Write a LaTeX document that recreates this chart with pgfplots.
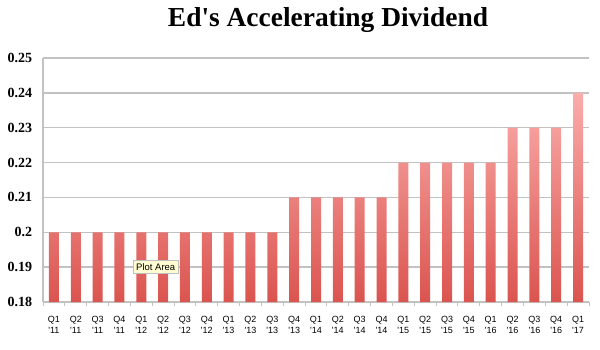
\documentclass[border=0pt]{standalone}
\usepackage{fontspec}
\setmainfont{Liberation Serif}
\setsansfont{Liberation Sans}
\usepackage{pgfplots}
\pgfplotsset{compat=1.18}
\definecolor{gridgray}{HTML}{C2C2C2}
\definecolor{bartop}{HTML}{FAADAB}
\definecolor{barbot}{HTML}{DB544F}
\begin{document}
\begin{tikzpicture}[x=1pt,y=1pt]
\path[use as bounding box] (0,0) rectangle (600,349);
\node[font=\bfseries] at (328,329) {\resizebox{320pt}{!}{Ed\textquotesingle s Accelerating Dividend}};
\begin{axis}[
  at={(43pt,47pt)}, anchor=south west,
  scale only axis, width=546pt, height=244pt,
  xmin=-0.5, xmax=24.5, ymin=0.18, ymax=0.25,
  ytick={0.18,0.19,...,0.25},
  yticklabels={0.18,0.19,0.2,0.21,0.22,0.23,0.24,0.25},
  ymajorgrids, grid style={gridgray, line width=1.5pt},
  axis x line*=bottom, axis y line*=left,
  axis line style={gridgray, line width=1.5pt},
  y axis line style={-}, x axis line style={-},
  major y tick style={draw=none},
  xtick={0,...,24}, major x tick style={draw=none},
  minor xtick={-0.5,0.5,...,24.5},
  minor x tick style={gridgray, line width=1pt},
  minor tick length=4pt, tick align=outside,
  xticklabels={{Q1\\\textquotesingle 11},{Q2\\\textquotesingle 11},{Q3\\\textquotesingle 11},{Q4\\\textquotesingle 11},
    {Q1\\\textquotesingle 12},{Q2\\\textquotesingle 12},{Q3\\\textquotesingle 12},{Q4\\\textquotesingle 12},
    {Q1\\\textquotesingle 13},{Q2\\\textquotesingle 13},{Q3\\\textquotesingle 13},{Q4\\\textquotesingle 13},
    {Q1\\\textquotesingle 14},{Q2\\\textquotesingle 14},{Q3\\\textquotesingle 14},{Q4\\\textquotesingle 14},
    {Q1\\\textquotesingle 15},{Q2\\\textquotesingle 15},{Q3\\\textquotesingle 15},{Q4\\\textquotesingle 15},
    {Q1\\\textquotesingle 16},{Q2\\\textquotesingle 16},{Q3\\\textquotesingle 16},{Q4\\\textquotesingle 16},
    {Q1\\\textquotesingle 17}},
  x tick label style={font=\sffamily\fontsize{9}{11}\selectfont, align=center, yshift=-6pt},
  y tick label style={font=\bfseries\fontsize{14}{15}\selectfont, xshift=-3pt},
  /pgf/number format/assume math mode=true,
  clip=false,
]
\addplot[ybar, bar width=10pt, draw=none, top color=bartop, bottom color=barbot] coordinates {
(0,0.2)(1,0.2)(2,0.2)(3,0.2)(4,0.2)(5,0.2)(6,0.2)(7,0.2)(8,0.2)(9,0.2)(10,0.2)
(11,0.21)(12,0.21)(13,0.21)(14,0.21)(15,0.21)
(16,0.22)(17,0.22)(18,0.22)(19,0.22)(20,0.22)
(21,0.23)(22,0.23)(23,0.23)
(24,0.24)};
\end{axis}
\node[draw=black!25, fill=yellow!18, font=\sffamily\fontsize{9.5}{11}\selectfont, inner sep=3pt, anchor=west] at (133,82) {Plot Area};
\end{tikzpicture}
\end{document}
